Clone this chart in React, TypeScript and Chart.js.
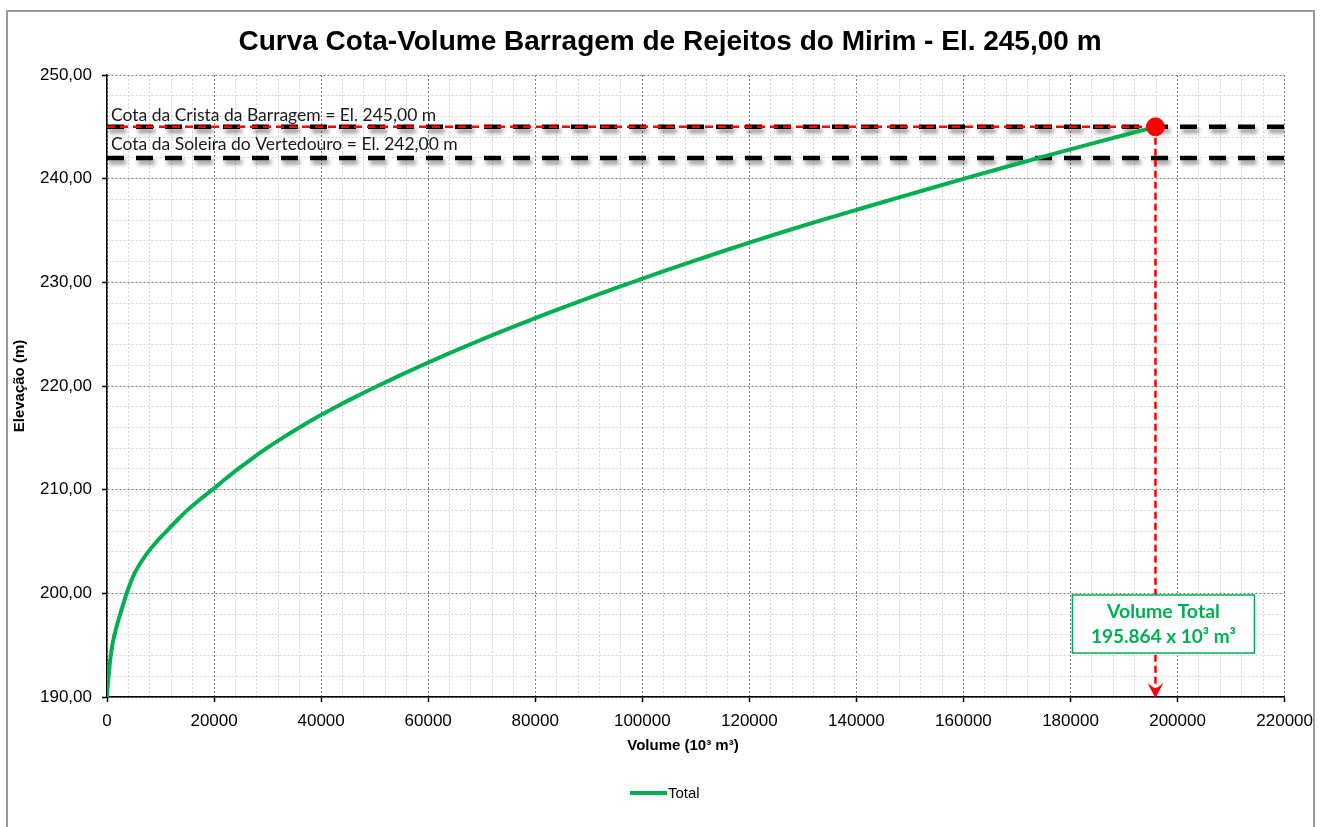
import React, { useEffect, useRef } from "react";
import { Chart, registerables } from "chart.js";

Chart.register(...registerables);

// ---- Data ----
const elevations = [
  190, 191, 192, 193, 194, 195, 196, 197, 198, 199,
  200, 201, 202, 203, 204, 205, 206, 207, 208, 209,
  210, 211, 212, 213, 214, 215, 216, 217, 218, 219,
  220, 221, 222, 223, 224, 225, 226, 227, 228, 229,
  230, 231, 232, 233, 234, 235, 236, 237, 238, 239,
  240, 241, 242, 243, 244, 245,
];
const volumes = [
  0, 120, 300, 480, 700, 1000, 1400, 1900, 2480, 3060,
  3670, 4370, 5220, 6350, 7700, 9300, 11130, 13000, 14970, 17250,
  19700, 22050, 24500, 27100, 29850, 32800, 35950, 39300, 42850, 46600,
  50550, 54630, 58860, 63240, 67770, 72450, 77280, 82260, 87390, 92670,
  98100, 103600, 109250, 115050, 121000, 127150, 133500, 140050, 146700, 153400,
  160140, 167040, 174040, 181190, 188490, 195864,
];
const crestElevation = 245;
const spillwayElevation = 242;
const totalVolume = 195864;
const xRange = [0, 220000];
const yRange = [190, 250];
const xMinorStep = 4000;
const xMajorStep = 20000;
const yMinorStep = 2;
const yMajorStep = 10;

const titleText = "Curva Cota-Volume Barragem de Rejeitos do Mirim - El. 245,00 m";
const yTitle = "Elevação (m)";
const xTitle = "Volume (10³ m³)";
const crestLabel = "Cota da Crista da Barragem = El. 245,00 m";
const spillwayLabel = "Cota da Soleira do Vertedouro = El. 242,00 m";
const boxLines = ["Volume Total", "195.864 x 10³ m³"];
const legendLabel = "Total";

const GREEN = "#00B050";
const RED = "#FF0000";
const SANS = "'Liberation Sans', Arial, sans-serif";
const CAL = "Lato, 'Open Sans', sans-serif";

const overlayPlugin = {
  id: "overlay",
  beforeDatasetDraw(chart: any, args: any) {
    const ds = chart.data.datasets[args.index];
    if (ds.shadow) {
      const ctx = chart.ctx;
      ctx.save();
      ctx.shadowColor = "rgba(0,0,0,0.45)";
      ctx.shadowBlur = 4;
      ctx.shadowOffsetX = 2;
      ctx.shadowOffsetY = 4;
    }
  },
  afterDatasetDraw(chart: any, args: any) {
    const ds = chart.data.datasets[args.index];
    if (ds.shadow) chart.ctx.restore();
  },
  afterDraw(chart: any) {
    const ctx = chart.ctx;
    const xs = chart.scales.x;
    const ys = chart.scales.y;
    const area = chart.chartArea;
    ctx.save();

    // Title
    ctx.fillStyle = "#000";
    ctx.font = `bold 28px ${SANS}`;
    ctx.textAlign = "center";
    ctx.textBaseline = "middle";
    ctx.fillText(titleText, 670, 42);

    // Axis titles
    ctx.font = `bold 15px ${SANS}`;
    ctx.fillText(xTitle, 683, 746);
    ctx.save();
    ctx.translate(20, (area.top + area.bottom) / 2);
    ctx.rotate(-Math.PI / 2);
    ctx.fillText(yTitle, 0, 0);
    ctx.restore();

    // Reference labels
    ctx.textAlign = "left";
    ctx.textBaseline = "alphabetic";
    ctx.font = `17.5px ${CAL}`;
    ctx.fillStyle = "#1a1a1a";
    ctx.fillText(crestLabel, area.left + 4, ys.getPixelForValue(crestElevation) - 6);
    ctx.fillText(spillwayLabel, area.left + 4, ys.getPixelForValue(spillwayElevation) - 8);

    // Arrowhead
    const ax = xs.getPixelForValue(totalVolume);
    const ay = area.bottom + 1;
    ctx.fillStyle = RED;
    ctx.beginPath();
    ctx.moveTo(ax, ay);
    ctx.lineTo(ax - 8, ay - 15);
    ctx.lineTo(ax, ay - 9);
    ctx.lineTo(ax + 8, ay - 15);
    ctx.closePath();
    ctx.fill();

    // Text box
    const bx = ax - 83;
    const bw = 182;
    const by = area.bottom - 102;
    const bh = 58;
    ctx.fillStyle = "#fff";
    ctx.fillRect(bx, by, bw, bh);
    ctx.strokeStyle = GREEN;
    ctx.lineWidth = 1.5;
    ctx.strokeRect(bx, by, bw, bh);
    ctx.fillStyle = GREEN;
    ctx.font = `bold 19.5px ${CAL}`;
    ctx.textAlign = "center";
    ctx.textBaseline = "middle";
    ctx.fillText(boxLines[0], bx + bw / 2, by + 17);
    ctx.font = `bold 19px ${CAL}`;
    ctx.fillText(boxLines[1], bx + bw / 2, by + 42);

    // Legend
    ctx.strokeStyle = GREEN;
    ctx.lineWidth = 4;
    ctx.beginPath();
    ctx.moveTo(630, 793);
    ctx.lineTo(667, 793);
    ctx.stroke();
    ctx.fillStyle = "#000";
    ctx.font = `15px ${SANS}`;
    ctx.textAlign = "left";
    ctx.fillText(legendLabel, 668, 794);

    ctx.restore();
  },
};

export default function App() {
  const ref = useRef<HTMLCanvasElement | null>(null);

  useEffect(() => {
    if (!ref.current) return;
    const curve = volumes.map((v, i) => ({ x: v, y: elevations[i] }));
    const isMajorX = (c: any) => c.tick && c.tick.value % xMajorStep === 0;
    const isMajorY = (c: any) => c.tick && (c.tick.value - yRange[0]) % yMajorStep === 0;

    const chart = new Chart(ref.current, {
      type: "scatter",
      data: {
        datasets: [
          {
            label: "marker",
            data: [{ x: totalVolume, y: crestElevation }],
            pointRadius: 9,
            pointBackgroundColor: RED,
            pointBorderColor: RED,
            showLine: false,
            order: 0,
          } as any,
          {
            label: "crestRed",
            data: [
              { x: xRange[0], y: crestElevation },
              { x: totalVolume, y: crestElevation },
            ],
            showLine: true,
            borderColor: RED,
            borderWidth: 2.5,
            borderDash: [8, 5],
            pointRadius: 0,
            order: 1,
          },
          {
            label: "volumeRed",
            data: [
              { x: totalVolume, y: crestElevation },
              { x: totalVolume, y: yRange[0] },
            ],
            showLine: true,
            borderColor: RED,
            borderWidth: 2.5,
            borderDash: [7, 4],
            pointRadius: 0,
            order: 1,
          },
          {
            label: "Total",
            data: curve,
            showLine: true,
            borderColor: GREEN,
            borderWidth: 4,
            pointRadius: 0,
            cubicInterpolationMode: "monotone",
            order: 2,
          },
          {
            label: "crest",
            data: [
              { x: xRange[0], y: crestElevation },
              { x: xRange[1], y: crestElevation },
            ],
            showLine: true,
            borderColor: "#000",
            borderWidth: 4.5,
            borderDash: [17, 12],
            pointRadius: 0,
            shadow: true,
            order: 3,
          } as any,
          {
            label: "spillway",
            data: [
              { x: xRange[0], y: spillwayElevation },
              { x: xRange[1], y: spillwayElevation },
            ],
            showLine: true,
            borderColor: "#000",
            borderWidth: 4.5,
            borderDash: [17, 12],
            pointRadius: 0,
            shadow: true,
            order: 3,
          } as any,
        ],
      },
      options: {
        animation: false,
        responsive: false,
        maintainAspectRatio: false,
        layout: { padding: { left: 0, right: 35, top: 75, bottom: 90 } },
        plugins: {
          legend: { display: false },
          title: { display: false },
          tooltip: { enabled: false },
        },
        scales: {
          x: {
            type: "linear",
            min: xRange[0],
            max: xRange[1],
            afterFit: (s: any) => {
              s.height = 40;
            },
            ticks: {
              stepSize: xMinorStep,
              autoSkip: false,
              maxRotation: 0,
              minRotation: 0,
              maxTicksLimit: 1000,
              padding: 9,
              color: "#000",
              font: { family: SANS, size: 17 },
              callback: (v: any) => (Number(v) % xMajorStep === 0 ? String(v) : ""),
            },
            grid: {
              color: (c: any) => (isMajorX(c) ? "#7a7a7a" : "#d4d4d4"),
              lineWidth: 1,
              tickLength: 5,
              tickColor: (c: any) => (isMajorX(c) ? "#000" : "rgba(0,0,0,0)"),
              tickWidth: 1.5,
              tickBorderDash: [],
            },
            border: { display: true, color: "#000", width: 1.5, dash: [2, 2] },
          },
          y: {
            type: "linear",
            min: yRange[0],
            max: yRange[1],
            afterFit: (s: any) => {
              s.width = 107;
            },
            ticks: {
              stepSize: yMinorStep,
              autoSkip: false,
              maxTicksLimit: 1000,
              padding: 10,
              color: "#000",
              font: { family: SANS, size: 17 },
              callback: (v: any) =>
                (Number(v) - yRange[0]) % yMajorStep === 0
                  ? Number(v).toFixed(2).replace(".", ",")
                  : "",
            },
            grid: {
              color: (c: any) => (isMajorY(c) ? "#7a7a7a" : "#d4d4d4"),
              lineWidth: 1,
              tickLength: 5,
              tickColor: (c: any) => (isMajorY(c) ? "#000" : "rgba(0,0,0,0)"),
              tickWidth: 1.5,
              tickBorderDash: [],
            },
            border: { display: true, color: "#000", width: 1.5, dash: [2, 2] },
          },
        },
      } as any,
      plugins: [overlayPlugin],
    });
    return () => chart.destroy();
  }, []);

  return (
    <div style={{ position: "absolute", left: 0, top: 0, width: 1322, height: 827, overflow: "hidden", background: "#fff" }}>
      <div
        style={{
          position: "absolute",
          left: 6,
          top: 10,
          width: 1309,
          height: 840,
          border: "2px solid #9a9a9a",
          boxSizing: "border-box",
        }}
      />
      <canvas
        ref={ref}
        width={1322}
        height={827}
        style={{ position: "absolute", left: 0, top: 0, width: 1322, height: 827 }}
      />
    </div>
  );
}
